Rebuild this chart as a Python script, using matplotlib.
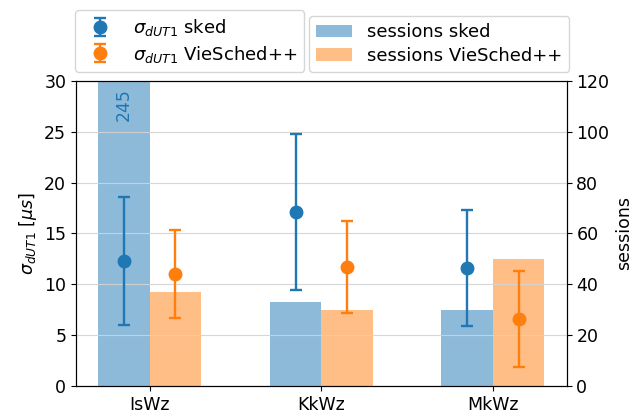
import matplotlib
matplotlib.use("Agg")
import matplotlib.pyplot as plt
import numpy as np

plt.rcParams["font.size"] = 12.5

baselines = ["IsWz", "KkWz", "MkWz"]

# sigma dUT1 [mus] with error
sigma_sked = [12.3, 17.1, 11.6]
err_sked = [6.3, 7.7, 5.7]
sigma_vie = [11.0, 11.7, 6.6]
err_vie = [4.3, 4.5, 4.7]

# number of sessions
sessions_sked = [245, 33, 30]
sessions_vie = [37, 30, 50]

x = np.arange(len(baselines))
w = 0.3

fig, ax = plt.subplots(figsize=(6.38, 4.15), dpi=100)
ax2 = ax.twinx()

b1 = ax2.bar(x - w / 2, sessions_sked, w, color="C0", alpha=0.5, label="sessions sked")
b2 = ax2.bar(x + w / 2, sessions_vie, w, color="C1", alpha=0.5, label="sessions VieSched++")
ax2.set_ylim(0, 120)
ax2.set_ylabel("sessions")

# label for bar that goes off the chart
for xi, s in zip(x, sessions_sked):
    if s > 120:
        ax2.text(xi - w / 2, 117, str(s), rotation=90, ha="center", va="top", color="C0")

e1 = ax.errorbar(x - w / 2, sigma_sked, yerr=err_sked, fmt="o", color="C0", elinewidth=1.7,
                 capsize=4, capthick=1.7, markersize=9, label=r"$\sigma_{dUT1}$ sked")
e2 = ax.errorbar(x + w / 2, sigma_vie, yerr=err_vie, fmt="o", color="C1", elinewidth=1.7,
                 capsize=4, capthick=1.7, markersize=9, label=r"$\sigma_{dUT1}$ VieSched++")
ax.set_ylim(0, 30)
ax.set_ylabel(r"$\sigma_{dUT1}$ [$\mu s$]")
ax.set_xticks(x)
ax.set_xticklabels(baselines)
ax.grid(axis="y", color="lightgray", alpha=0.9)

ax.set_zorder(ax2.get_zorder() + 1)
ax.patch.set_visible(False)

ax.legend(handles=[e1, e2], loc="lower left", bbox_to_anchor=(-0.002, 1.0295),
          borderaxespad=0, fontsize=13, labelspacing=0.3)
ax2.legend(handles=[b1, b2], loc="lower left", bbox_to_anchor=(0.475, 1.0295),
           borderaxespad=0, fontsize=13, labelspacing=0.3)

fig.subplots_adjust(left=0.119, right=0.888, top=0.805, bottom=0.07)
fig.savefig("out.png")
